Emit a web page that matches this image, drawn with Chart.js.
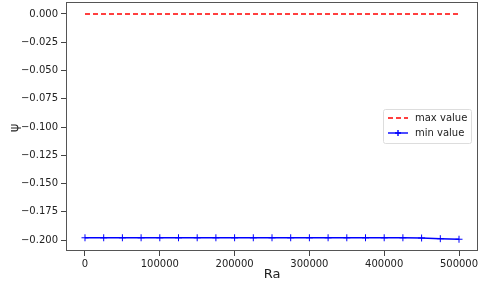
<!DOCTYPE html>
<html>
<head>
<meta charset="utf-8">
<script src="https://cdn.jsdelivr.net/npm/chart.js@4.4.0/dist/chart.umd.min.js"></script>
<style>
  html, body { margin: 0; padding: 0; background: #fff; }
  #wrap { width: 480px; height: 286px; }
</style>
</head>
<body>
<div id="wrap"><canvas id="psiChart" width="480" height="286"></canvas></div>
<script>
// data
const raValues = [0, 25000, 50000, 75000, 100000, 125000, 150000, 175000, 200000, 225000,
  250000, 275000, 300000, 325000, 350000, 375000, 400000, 425000, 450000, 475000, 500000];
const maxValues = [0, 0, 0, 0, 0, 0, 0, 0, 0, 0, 0, 0, 0, 0, 0, 0, 0, 0, 0, 0, 0];
const minValues = [-0.198, -0.198, -0.198, -0.198, -0.198, -0.198, -0.198, -0.198, -0.198, -0.198,
  -0.198, -0.198, -0.198, -0.198, -0.198, -0.198, -0.198, -0.198, -0.1982, -0.1988, -0.1993];
const yTicks = [0, -0.025, -0.05, -0.075, -0.1, -0.125, -0.15, -0.175, -0.2];
const xTicks = [0, 100000, 200000, 300000, 400000, 500000];

const fontFamily = 'DejaVu Sans';

// frame, axis titles and legend drawn by hand, matplotlib style
const extras = {
  id: 'extras',
  afterDraw(chart) {
    const { ctx, chartArea: a } = chart;
    ctx.save();
    ctx.strokeStyle = '#555';
    ctx.lineWidth = 1;
    ctx.strokeRect(a.left + 0.5, a.top + 0.5, a.right - a.left - 1, a.bottom - a.top - 1);

    ctx.fillStyle = '#222';
    ctx.font = '13px ' + fontFamily;
    ctx.textAlign = 'center';
    ctx.textBaseline = 'middle';
    ctx.fillText('Ra', (a.left + a.right) / 2, 275);
    ctx.translate(15, 128);
    ctx.rotate(-Math.PI / 2);
    ctx.fillText('ψ', 0, 0);
    ctx.restore();

    // legend
    ctx.save();
    const lx = 383, ly = 109, lw = 88, lh = 34;
    ctx.fillStyle = 'rgba(255,255,255,0.8)';
    ctx.strokeStyle = '#ddd';
    ctx.lineWidth = 1;
    ctx.beginPath();
    ctx.roundRect(lx + 0.5, ly + 0.5, lw, lh, 2);
    ctx.fill();
    ctx.stroke();
    ctx.font = '10px ' + fontFamily;
    ctx.textAlign = 'left';
    ctx.textBaseline = 'middle';
    const items = chart.data.datasets;
    items.forEach((ds, i) => {
      const y = ly + 9 + i * 15;
      ctx.strokeStyle = ds.borderColor;
      ctx.lineWidth = 1.4;
      ctx.setLineDash(ds.borderDash || []);
      ctx.beginPath();
      ctx.moveTo(lx + 5, y);
      ctx.lineTo(lx + 25, y);
      ctx.stroke();
      ctx.setLineDash([]);
      if (ds.pointRadius > 0) {
        ctx.beginPath();
        ctx.moveTo(lx + 15, y - 3); ctx.lineTo(lx + 15, y + 3);
        ctx.moveTo(lx + 12, y); ctx.lineTo(lx + 18, y);
        ctx.stroke();
      }
      ctx.fillStyle = '#222';
      ctx.fillText(ds.label, lx + 32, y);
    });
    ctx.restore();
  }
};

const ctx = document.getElementById('psiChart').getContext('2d');
new Chart(ctx, {
  type: 'line',
  data: {
    datasets: [{
      label: 'max value',
      data: raValues.map((x, i) => ({ x: x, y: maxValues[i] })),
      borderColor: '#ff0000',
      borderWidth: 1.4,
      borderDash: [5, 3],
      pointRadius: 0,
      fill: false
    }, {
      label: 'min value',
      data: raValues.map((x, i) => ({ x: x, y: minValues[i] })),
      borderColor: '#0000ff',
      backgroundColor: '#0000ff',
      borderWidth: 1.4,
      pointStyle: 'cross',
      pointRadius: 3.5,
      pointBorderWidth: 1,
      fill: false
    }]
  },
  options: {
    responsive: false,
    animation: false,
    layout: { autoPadding: false, padding: { left: 0, right: 2, top: 2, bottom: 0 } },
    plugins: { legend: { display: false }, tooltip: { enabled: false } },
    scales: {
      x: {
        type: 'linear',
        min: -25400,
        max: 525400,
        afterFit(scale) {
          scale.height = 35;
          scale.paddingLeft = 0;
          scale.paddingRight = 0;
        },
        afterBuildTicks(scale) { scale.ticks = xTicks.map(v => ({ value: v })); },
        grid: { drawOnChartArea: false, tickLength: 5, color: '#444' },
        border: { display: false },
        ticks: {
          color: '#222',
          padding: 2,
          maxRotation: 0,
          font: { family: fontFamily, size: 10 },
          callback: v => String(v)
        }
      },
      y: {
        min: -0.2097,
        max: 0.0106,
        afterFit(scale) {
          scale.width = 66;
          scale.paddingTop = 0;
          scale.paddingBottom = 0;
        },
        afterBuildTicks(scale) { scale.ticks = yTicks.map(v => ({ value: v })); },
        grid: { drawOnChartArea: false, tickLength: 5, color: '#444' },
        border: { display: false },
        ticks: {
          color: '#222',
          padding: 3,
          font: { family: fontFamily, size: 10 },
          callback: v => (v < 0 ? '\u2212' : '') + Math.abs(v).toFixed(3)
        }
      }
    }
  },
  plugins: [extras]
});
</script>
</body>
</html>
